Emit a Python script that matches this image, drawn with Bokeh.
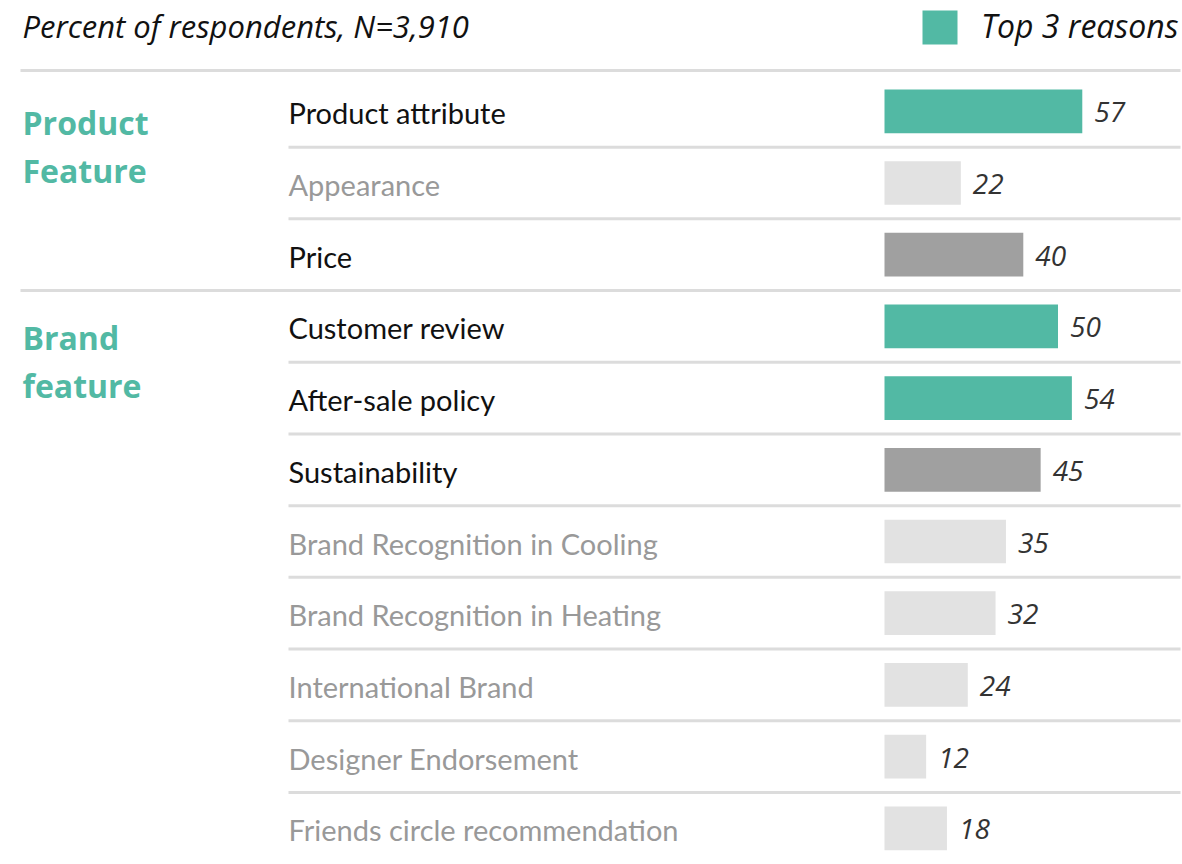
from bokeh.plotting import figure
from bokeh.models import Range1d, ColumnDataSource
from bokeh.core.properties import value
from bokeh.embed import file_html
from bokeh.resources import INLINE

# ---------------- data ----------------
labels = ["Product attribute", "Appearance", "Price",
          "Customer review", "After-sale policy", "Sustainability",
          "Brand Recognition in Cooling", "Brand Recognition in Heating",
          "International Brand", "Designer Endorsement",
          "Friends circle recommendation"]
values = [57, 22, 40, 50, 54, 45, 35, 32, 24, 12, 18]
tiers = ["top3", "low", "high", "top3", "top3", "high",
         "low", "low", "low", "low", "low"]
group_lines = [["Product", "Feature"], ["Brand", "feature"]]
group_sizes = [3, 8]
subtitle = "Percent of respondents, N=3,910"
legend_label = "Top 3 reasons"

# ---------------- style ----------------
TEAL = "#52B9A4"
DARK = "#A0A0A0"
LIGHT = "#E2E2E2"
SEP = "#DCDCDC"
bar_colors = {"top3": TEAL, "high": DARK, "low": LIGHT}
text_colors = {"top3": "#111111", "high": "#111111", "low": "#999999"}

W, H = 1182, 864
BAR_X = 884                      # x where bars start
PX_PER_UNIT = 3.47
ROW0 = 110.8
ROW_STEP = 71.7
BAR_H = 43.7

p = figure(width=W, height=H, output_backend="svg", toolbar_location=None,
           x_range=Range1d(0, W), y_range=Range1d(H, 0),
           x_axis_location=None, y_axis_location=None,
           min_border=0, outline_line_color=None,
           background_fill_color="white", border_fill_color="white")
p.grid.visible = False
p.extra_x_ranges = {"val": Range1d(start=(0 - BAR_X) / PX_PER_UNIT,
                                   end=(W - BAR_X) / PX_PER_UNIT)}

n = len(labels)
yc = [ROW0 + i * ROW_STEP for i in range(n)]

src = ColumnDataSource(dict(
    y=yc,
    yb=[y + 1.5 for y in yc],
    yv=[y + 1 for y in yc],
    value=values,
    vtxt=[str(v) for v in values],
    label=labels,
    color=[bar_colors[t] for t in tiers],
    tcolor=[text_colors[t] for t in tiers],
))

# separators
top_y = ROW0 - 40.8
p.segment(x0=[20], x1=[1180], y0=[top_y], y1=[top_y], line_color=SEP, line_width=3)
cum = 0
group_starts = []
for gs in group_sizes:
    group_starts.append(cum)
    cum += gs
for i in range(n - 1):
    ys = (yc[i] + yc[i + 1]) / 2
    full = (i + 1) in group_starts
    p.segment(x0=[20 if full else 288], x1=[1180], y0=[ys], y1=[ys],
              line_color=SEP, line_width=3)

# bars
p.hbar(y="y", left=0, right="value", height=BAR_H, fill_color="color",
       line_color=None, source=src, x_range_name="val")

# value labels
p.text(x="value", y="yv", text="vtxt", source=src, x_range_name="val",
       x_offset=12, text_font=value("Open Sans"), text_font_style="italic",
       text_font_size="28px", text_color="#333333", text_baseline="alphabetic")

# row labels
p.text(x=288, y="yb", text="label", source=src, text_font=value("Lato"),
       text_font_size="29px", text_color="tcolor", text_baseline="alphabetic")

# group labels
for gi, lines in enumerate(group_lines):
    base = yc[group_starts[gi]] + 11.5
    for li, t in enumerate(lines):
        p.text(x=[22], y=[base + li * 47.5], text=[t], text_font=value("Open Sans"),
               text_font_style="bold", text_font_size="32px", text_color=TEAL,
               text_baseline="alphabetic")

# header
p.text(x=[22], y=[25], text=[subtitle], text_font=value("Open Sans"),
       text_font_style="italic", text_font_size="31px", text_color="#111111",
       text_baseline="alphabetic")
p.rect(x=[939.5], y=[27], width=35, height=34, fill_color=TEAL, line_color=None)
p.text(x=[1178], y=[25], text=[legend_label], text_font=value("Open Sans"),
       text_font_style="italic", text_font_size="32px", text_color="#111111",
       text_baseline="alphabetic", text_align="right")

open("out.html", "w").write(file_html(p, INLINE))
